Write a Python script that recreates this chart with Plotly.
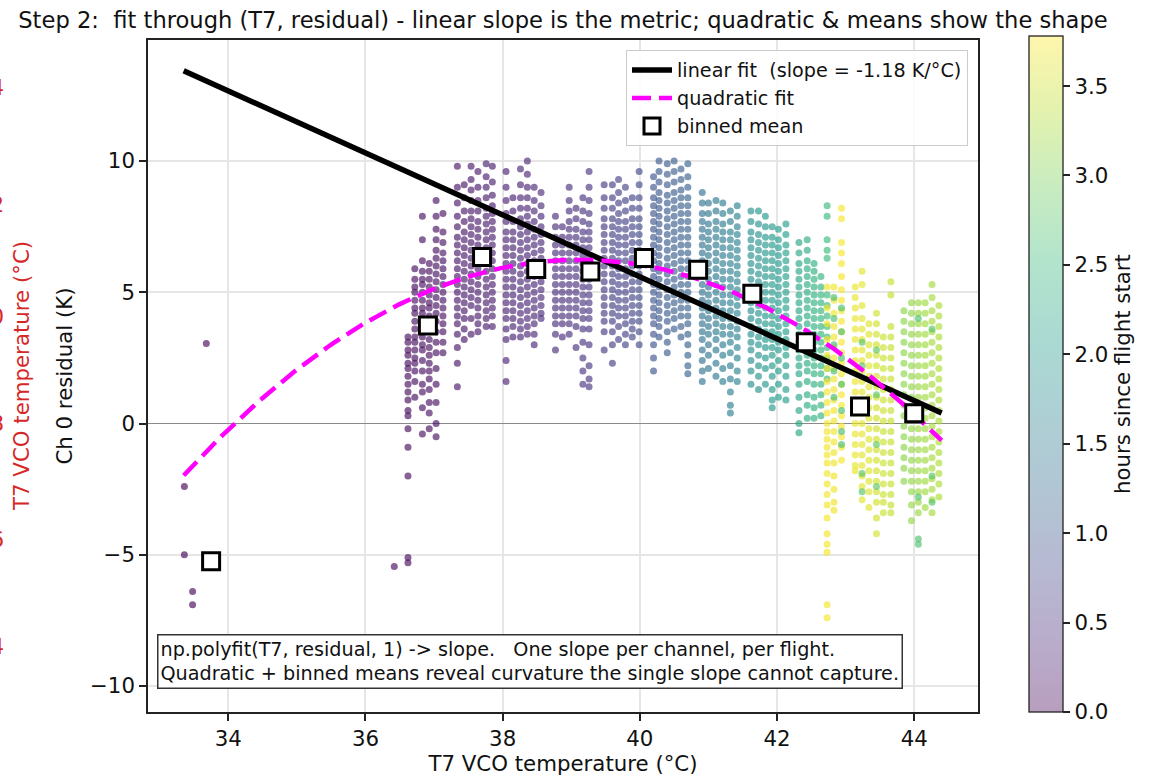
import numpy as np
import plotly.graph_objects as go
import plotly.express as px

# ---------------- data ----------------
# each strip: one T7 reading (degC), its time since flight start (h), and residuals (K)
strip_temp = [
    33.36, 33.48, 33.68, 36.42,
    36.62, 36.72, 36.83, 36.93, 37.03, 37.13,
    37.34, 37.44, 37.54, 37.64, 37.76, 37.85,
    38.05, 38.15, 38.26, 38.36, 38.46, 38.56,
    38.77, 38.87, 38.97, 39.07, 39.17, 39.26,
    39.48, 39.60, 39.69, 39.79, 39.89, 39.99,
    40.20, 40.28, 40.40, 40.50, 40.60, 40.70,
    40.91, 41.00, 41.11, 41.21, 41.32, 41.42,
    41.62, 41.73, 41.83, 41.93, 42.02, 42.13,
    42.32, 42.44, 42.54, 42.64,
    42.73, 42.73, 42.83, 42.83, 42.94, 42.94,
    43.14, 43.24, 43.34, 43.45, 43.55, 43.66, 43.24, 43.45,
    43.85, 43.96, 44.06, 44.16, 44.26, 44.36, 44.06, 44.26,
]
strip_hours = [
    0.02, 0.03, 0.05, 0.08,
    0.10, 0.11, 0.12, 0.13, 0.14, 0.15,
    0.20, 0.22, 0.24, 0.25, 0.27, 0.28,
    0.31, 0.33, 0.35, 0.37, 0.39, 0.41,
    0.44, 0.46, 0.48, 0.50, 0.52, 0.55,
    0.62, 0.66, 0.70, 0.73, 0.77, 0.80,
    0.95, 0.99, 1.03, 1.07, 1.11, 1.15,
    1.38, 1.44, 1.50, 1.55, 1.60, 1.65,
    1.86, 1.91, 1.96, 2.01, 2.06, 2.10,
    2.22, 2.30, 2.37, 2.44,
    2.55, 3.72, 3.70, 2.62, 3.74, 2.65,
    3.66, 3.63, 3.60, 3.52, 3.48, 3.45, 2.75, 2.80,
    3.10, 3.14, 3.18, 3.22, 3.26, 3.30, 2.70, 2.75,
]
strip_resid = [
    [-2.4, -5.0], [-6.4, -6.9], [3.05], [-5.45],
    [3.3, 3.1, 2.8, 2.6, 2.3, 2.1, 1.8, 1.5, 1.2, 0.9, 0.5, 0.3, -0.2, -0.9, -2.0, -5.1, -5.3],
    [5.9, 5.5, 5.2, 5.0, 4.7, 4.4, 4.2, 3.9, 3.6, 3.3, 3.1, 2.8, 2.5, 2.3, 2.0, 1.6, 1.0],
    [7.9, 7.0, 6.2, 5.8, 5.5, 5.3, 5.0, 4.7, 4.4, 4.2, 3.9, 3.6, 3.3, 3.0, 2.8, 2.4, 2.0, 1.5, 1.2, 0.6, -0.4],
    [6.1, 5.8, 5.5, 5.2, 4.9, 4.6, 4.4, 4.1, 3.8, 3.5, 3.2, 2.9, 2.6, 2.3, 2.0, 1.7, 1.3, 0.8, 0.4, -0.2],
    [8.5, 7.9, 7.4, 7.0, 6.6, 6.3, 6.0, 5.7, 5.4, 5.1, 4.8, 4.5, 4.2, 3.9, 3.5, 3.1, 2.7, 2.1, 1.5, 0.8, 0.0, -0.5],
    [8.0, 7.3, 6.9, 6.5, 6.2, 5.9, 5.6, 5.3, 5.0, 4.7, 4.4, 4.1, 3.8, 3.5, 3.1, 2.7],
    [9.8, 9.0, 8.4, 7.9, 7.5, 7.1, 6.8, 6.5, 6.2, 5.9, 5.6, 5.3, 5.0, 4.7, 4.4, 4.1, 3.8, 3.4, 2.9, 2.3, 1.4],
    [9.1, 8.6, 8.1, 7.7, 7.3, 7.0, 6.7, 6.4, 6.1, 5.8, 5.5, 5.2, 4.9, 4.6, 4.3, 4.0, 3.6, 3.2],
    [9.8, 9.3, 8.9, 8.5, 8.1, 7.8, 7.5, 7.2, 6.9, 6.6, 6.3, 6.0, 5.7, 5.4, 5.1, 4.8, 4.5, 4.0, 3.4],
    [9.6, 9.0, 8.5, 8.1, 7.7, 7.4, 7.1, 6.8, 6.5, 6.2, 5.9, 5.6, 5.3, 5.0, 4.7, 4.4, 4.1, 3.8, 3.5],
    [9.9, 9.4, 9.0, 8.6, 8.2, 7.9, 7.6, 7.3, 7.0, 6.7, 6.4, 6.1, 5.8, 5.5, 5.2, 4.9, 4.6, 4.3, 4.0, 3.7],
    [9.8, 9.2, 8.7, 8.3, 8.0, 7.7, 7.4, 7.1, 6.8, 6.5, 6.2, 5.9, 5.6, 5.3, 5.0, 4.7, 4.4, 4.1, 3.7],
    [9.6, 9.0, 8.5, 8.0, 7.7, 7.3, 7.0, 6.7, 6.4, 6.1, 5.8, 5.5, 5.2, 4.9, 4.6, 4.3, 4.0, 3.6, 3.2, 2.4, 1.6],
    [8.6, 8.1, 7.7, 7.3, 7.0, 6.7, 6.4, 6.1, 5.8, 5.5, 5.2, 4.9, 4.6, 4.3, 4.0, 3.7, 3.3],
    [9.7, 9.1, 8.6, 8.2, 7.8, 7.5, 7.2, 6.9, 6.6, 6.3, 6.0, 5.7, 5.4, 5.1, 4.8, 4.5, 4.2, 3.9, 3.6, 3.3],
    [10.0, 9.5, 9.0, 8.6, 8.2, 7.9, 7.6, 7.3, 7.0, 6.7, 6.4, 6.1, 5.8, 5.5, 5.2, 4.9, 4.6, 4.3, 4.0, 3.7, 3.4],
    [9.0, 8.5, 8.1, 7.7, 7.4, 7.1, 6.8, 6.5, 6.2, 5.9, 5.6, 5.3, 5.0, 4.7, 4.4, 4.1, 3.8, 3.4, 3.0],
    [8.8, 8.3, 7.9, 7.5, 7.2, 6.9, 6.6, 6.3, 6.0, 5.7, 5.4, 5.1, 4.8, 4.5, 4.2, 4.0],
    [7.9, 7.5, 7.1, 6.8, 6.5, 6.2, 5.9, 5.6, 5.3, 5.0, 4.7, 4.4, 4.1, 3.8, 3.4, 2.8],
    [7.5, 7.1, 6.8, 6.5, 6.2, 5.9, 5.6, 5.3, 5.0, 4.7, 4.4, 4.1, 3.8, 3.3],
    [9.0, 8.5, 8.1, 7.7, 7.4, 7.1, 6.8, 6.5, 6.2, 5.9, 5.6, 5.3, 5.0, 4.7, 4.4, 4.1, 3.8, 3.4],
    [8.2, 7.8, 7.4, 7.1, 6.8, 6.5, 6.2, 5.9, 5.6, 5.3, 5.0, 4.7, 4.4, 4.1, 3.7, 2.9],
    [8.6, 8.1, 7.7, 7.3, 7.0, 6.7, 6.4, 6.1, 5.8, 5.5, 5.2, 4.9, 4.6, 4.3, 4.0, 3.6, 3.1, 2.5, 2.0, 1.5],
    [9.6, 9.0, 8.5, 8.0, 7.6, 7.3, 7.0, 6.7, 6.4, 6.1, 5.8, 5.5, 5.2, 4.9, 4.6, 4.3, 4.0, 3.6, 3.0, 2.2, 1.7, 1.4],
    [9.1, 8.6, 8.2, 7.8, 7.5, 7.2, 6.9, 6.6, 6.3, 6.0, 5.7, 5.4, 5.1, 4.8, 4.5, 4.2, 3.9, 3.5, 2.8],
    [9.1, 8.6, 8.2, 7.8, 7.5, 7.2, 6.9, 6.6, 6.3, 6.0, 5.7, 5.4, 5.1, 4.8, 4.5, 4.2, 3.9, 3.5, 3.0, 2.3],
    [9.3, 8.8, 8.4, 8.0, 7.7, 7.4, 7.1, 6.8, 6.5, 6.2, 5.9, 5.6, 5.3, 5.0, 4.7, 4.4, 4.1, 3.7, 3.2],
    [9.0, 8.5, 8.1, 7.7, 7.4, 7.1, 6.8, 6.5, 6.2, 5.9, 5.6, 5.3, 5.0, 4.7, 4.4, 4.1, 3.8, 3.4, 3.0],
    [8.6, 8.2, 7.8, 7.5, 7.2, 6.9, 6.6, 6.3, 6.0, 5.7, 5.4, 5.1, 4.8, 4.5, 4.2, 3.9, 3.6, 3.3],
    [9.6, 9.1, 8.6, 8.2, 7.8, 7.5, 7.2, 6.9, 6.6, 6.3, 6.0, 5.7, 5.4, 5.1, 4.8, 4.5, 4.2, 3.9, 3.5, 3.0],
    [9.4, 9.0, 8.6, 8.3, 8.0, 7.7, 7.4, 7.1, 6.8, 6.5, 6.2, 5.9, 5.6, 5.3, 5.0, 4.7, 4.4, 4.1, 3.8, 3.4, 3.0, 2.5, 2.0],
    [10.0, 9.6, 9.2, 8.8, 8.5, 8.2, 7.9, 7.6, 7.3, 7.0, 6.7, 6.4, 6.1, 5.8, 5.5, 5.2, 4.9, 4.6, 4.3, 4.0, 3.7, 3.3],
    [9.9, 9.5, 9.1, 8.7, 8.4, 8.1, 7.8, 7.5, 7.2, 6.9, 6.6, 6.3, 6.0, 5.7, 5.4, 5.1, 4.8, 4.5, 4.2, 3.9, 3.5, 3.1, 2.7],
    [10.0, 9.6, 9.2, 8.8, 8.5, 8.2, 7.9, 7.6, 7.3, 7.0, 6.7, 6.4, 6.1, 5.8, 5.5, 5.2, 4.9, 4.6, 4.3, 4.0, 3.6],
    [9.7, 9.3, 8.9, 8.6, 8.3, 8.0, 7.7, 7.4, 7.1, 6.8, 6.5, 6.2, 5.9, 5.6, 5.3, 5.0, 4.7, 4.4, 4.1, 3.7, 3.3],
    [9.9, 9.4, 9.0, 8.6, 8.3, 8.0, 7.7, 7.4, 7.1, 6.8, 6.5, 6.2, 5.9, 5.6, 5.3, 5.0, 4.7, 4.4, 4.1, 3.8, 3.4, 3.0, 2.6, 2.2, 1.9],
    [8.8, 8.4, 8.0, 7.7, 7.4, 7.1, 6.8, 6.5, 6.2, 5.9, 5.6, 5.3, 5.0, 4.7, 4.4, 4.1, 3.8, 3.5, 3.2, 2.8, 2.4, 2.0, 1.6],
    [8.4, 8.0, 7.6, 7.3, 7.0, 6.7, 6.4, 6.1, 5.8, 5.5, 5.2, 4.9, 4.6, 4.3, 4.0, 3.7, 3.4, 3.0, 2.6, 2.1],
    [8.5, 8.1, 7.7, 7.4, 7.1, 6.8, 6.5, 6.2, 5.9, 5.6, 5.3, 5.0, 4.7, 4.4, 4.1, 3.8, 3.5, 3.2, 2.8, 2.3, 1.8],
    [8.4, 8.0, 7.6, 7.3, 7.0, 6.7, 6.4, 6.1, 5.8, 5.5, 5.2, 4.9, 4.6, 4.3, 4.0, 3.7, 3.4, 3.0, 2.6, 2.1, 1.6],
    [8.1, 7.7, 7.3, 7.0, 6.7, 6.4, 6.1, 5.8, 5.5, 5.2, 4.9, 4.6, 4.3, 4.0, 3.7, 3.4, 3.1, 2.7, 2.2, 1.7, 1.2, 0.7, 0.4],
    [8.3, 7.9, 7.5, 7.2, 6.9, 6.6, 6.3, 6.0, 5.7, 5.4, 5.1, 4.8, 4.5, 4.2, 3.9, 3.6, 3.3, 2.9, 2.5, 2.0, 1.6],
    [8.1, 7.7, 7.3, 7.0, 6.7, 6.4, 6.1, 5.8, 5.5, 5.2, 4.9, 4.6, 4.3, 4.0, 3.7, 3.4, 3.1, 2.8, 2.4, 2.0, 1.5],
    [8.1, 7.6, 7.2, 6.9, 6.6, 6.3, 6.0, 5.7, 5.4, 5.1, 4.8, 4.5, 4.2, 3.9, 3.6, 3.3, 3.0, 2.6, 2.2, 1.8, 1.3],
    [7.9, 7.5, 7.1, 6.8, 6.5, 6.2, 5.9, 5.6, 5.3, 5.0, 4.7, 4.4, 4.1, 3.8, 3.5, 3.2, 2.9, 2.5, 2.1, 1.5],
    [7.5, 7.1, 6.8, 6.5, 6.2, 5.9, 5.6, 5.3, 5.0, 4.7, 4.4, 4.1, 3.8, 3.5, 3.2, 2.9, 2.6, 2.2, 1.8, 1.3, 0.9, 0.6],
    [7.4, 7.0, 6.7, 6.4, 6.1, 5.8, 5.5, 5.2, 4.9, 4.6, 4.3, 4.0, 3.7, 3.4, 3.1, 2.8, 2.4, 2.0, 1.5, 1.0],
    [7.6, 7.2, 6.8, 6.5, 6.2, 5.9, 5.6, 5.3, 5.0, 4.7, 4.4, 4.1, 3.8, 3.5, 3.2, 2.9, 2.6, 2.2, 1.8, 1.3, 0.9],
    [6.9, 6.5, 6.1, 5.8, 5.5, 5.2, 4.9, 4.6, 4.3, 4.0, 3.7, 3.4, 3.1, 2.8, 2.5, 2.2, 1.9, 1.5, 1.0, 0.5, 0.0, -0.35],
    [7.0, 6.6, 6.2, 5.9, 5.6, 5.3, 5.0, 4.7, 4.4, 4.1, 3.8, 3.5, 3.2, 2.9, 2.6, 2.3, 2.0, 1.6, 1.1, 0.7, 0.2],
    [6.1, 5.8, 5.5, 5.2, 4.9, 4.6, 4.3, 4.0, 3.7, 3.4, 3.1, 2.8, 2.5, 2.2, 1.9, 1.5, 1.0, 0.6, 0.2],
    [5.6, 5.2, 4.9, 4.6, 4.3, 4.0, 3.7, 3.4, 3.1, 2.8, 2.5, 2.2, 1.9, 1.5, 1.1, 0.7, 0.3],
    [8.3, 7.9, 7.0, 6.6, 6.3, 4.9, 4.5, 4.1, 3.7, 3.3, 2.9, 2.5, 2.1, 1.7],
    [5.2, 4.4, 3.8, 3.2, 2.6, 2.1, 1.6, 1.2, 0.8, 0.4, 0.0, -0.3, -0.6, -0.9, -1.2, -1.5, -1.9, -2.3, -2.7, -3.1, -3.6, -4.2, -4.6, -4.9, -6.9, -7.4],
    [5.2, 4.7, 4.2, 3.7, 3.3, 2.9, 2.5, 2.1, 1.7, 1.3, 0.9, 0.5, 0.1, -0.3, -0.7, -1.1, -1.5, -2.0, -2.5, -3.0, -3.3],
    [4.8, 4.0, 3.0, 2.0, 1.0],
    [8.2, 7.8, 6.9, 6.5, 6.1, 5.6, 5.1, 4.7, 4.3, 3.9, 3.5, 3.1, 2.7, 2.3, 1.9, 1.5, 1.1, 0.7, 0.3, -0.1, -0.5, -0.9, -1.4],
    [4.4, 3.5, 2.5, 1.5, 0.5, -0.3, -0.8],
    [5.2, 4.8, 4.4, 4.0, 3.6, 3.2, 2.8, 2.4, 2.0, 1.6, 1.2, 0.8, 0.4, 0.0, -0.4, -0.8, -1.2, -1.6, -1.8],
    [5.8, 5.3, 4.5, 4.0, 3.6, 3.2, 2.8, 2.4, 2.0, 1.6, 1.2, 0.8, 0.4, 0.0, -0.4, -0.8, -1.2, -1.6, -2.0, -2.4, -2.9],
    [3.8, 3.4, 3.0, 2.6, 2.2, 1.8, 1.4, 1.0, 0.6, 0.2, -0.2, -0.6, -1.0, -1.4, -1.8, -2.2, -2.6, -3.2],
    [4.2, 3.8, 3.4, 3.0, 2.6, 2.2, 1.8, 1.4, 1.0, 0.6, 0.2, -0.2, -0.6, -1.0, -1.4, -1.8, -2.2, -2.6, -3.0, -3.6, -4.2],
    [3.3, 2.9, 2.5, 2.1, 1.7, 1.3, 0.9, 0.5, 0.1, -0.3, -0.7, -1.1, -1.5, -1.9, -2.3, -2.7, -3.0, -3.4],
    [5.4, 4.9, 3.7, 3.3, 2.9, 2.5, 2.1, 1.7, 1.3, 0.9, 0.5, 0.1, -0.3, -0.7, -1.1, -1.5, -1.9, -2.3, -2.7, -3.1, -3.4],
    [3.1, 2.2, -1.9, -2.6],
    [2.8, 1.1, -0.8, -2.4],
    [4.3, 3.9, 3.5, 3.1, 2.7, 2.3, 1.9, 1.5, 1.1, 0.7, 0.3, -0.1, -0.5, -0.9, -1.3, -1.7, -2.2],
    [4.6, 4.2, 3.8, 3.4, 3.0, 2.6, 2.2, 1.8, 1.4, 1.0, 0.6, 0.2, -0.2, -0.6, -1.0, -1.4, -1.8, -2.2, -2.6, -3.1, -3.7],
    [4.6, 4.2, 3.8, 3.4, 3.0, 2.6, 2.2, 1.8, 1.4, 1.0, 0.6, 0.2, -0.2, -0.6, -1.0, -1.4, -1.8, -2.2, -2.6, -3.0, -3.4],
    [4.6, 4.2, 3.8, 3.4, 3.0, 2.6, 2.2, 1.8, 1.4, 1.0, 0.6, 0.2, -0.2, -0.6, -1.0, -1.4, -1.8, -2.2, -2.6, -3.2],
    [5.3, 4.8, 4.3, 3.9, 3.5, 3.1, 2.7, 2.3, 1.9, 1.5, 1.1, 0.7, 0.3, -0.1, -0.5, -0.9, -1.3, -1.7, -2.1, -2.5, -2.9, -3.4],
    [4.5, 4.1, 3.7, 3.3, 2.9, 2.5, 2.1, 1.7, 1.3, 0.9, 0.5, 0.1, -0.3, -0.7, -1.1, -1.5, -1.9, -2.3, -2.8],
    [4.0, -2.8, -4.4, -4.6],
    [3.6, -2.0, -3.0],
]

# binned means (squares)
bin_temp = [33.75, 36.91, 37.70, 38.49, 39.28, 40.06, 40.85, 41.64, 42.42, 43.21, 44.00]
bin_mean = [-5.25, 3.73, 6.34, 5.89, 5.79, 6.31, 5.86, 4.94, 3.10, 0.65, 0.39]

# fit coefficients (highest power first) and fitted T7 range
lin_coef = [-1.18, 52.79]
quad_coef = [-0.247, 19.325, -371.75]
fit_range = [33.35, 44.40]
slope_label = -1.18
hours_max = 3.78

# ---------------- build ----------------
xs, ys, cs = [], [], []
for t, h, vals in zip(strip_temp, strip_hours, strip_resid):
    for v in vals:
        xs.append(t)
        ys.append(v)
        cs.append(h)

def rgba(hexcol, a):
    hexcol = hexcol.lstrip('#')
    r, g, b = int(hexcol[0:2], 16), int(hexcol[2:4], 16), int(hexcol[4:6], 16)
    return f"rgba({r},{g},{b},{a})"

def pale(hexcol, a):
    hexcol = hexcol.lstrip('#')
    r, g, b = int(hexcol[0:2], 16), int(hexcol[2:4], 16), int(hexcol[4:6], 16)
    f = lambda c: round(255 - a * (255 - c))
    return f"rgb({f(r)},{f(g)},{f(b)})"

vir = px.colors.sequential.Viridis
n = len(vir)
pt_scale = [[i / (n - 1), rgba(c, 0.64)] for i, c in enumerate(vir)]
cb_scale = [[i / (n - 1), pale(c, 0.38)] for i, c in enumerate(vir)]

FONT = "DejaVu Sans"
fs = 21.3
fs_title = 22.6
fs_small = 19.2

fig = go.Figure()

fig.add_trace(go.Scatter(
    x=xs, y=ys, mode="markers", showlegend=False, hoverinfo="skip",
    marker=dict(size=7, color=cs, colorscale=pt_scale, cmin=0, cmax=hours_max,
                line=dict(width=0), showscale=False)))

# colorbar (pale, as drawn with alpha)
fig.add_trace(go.Scatter(
    x=[None], y=[None], mode="markers", showlegend=False, hoverinfo="skip",
    marker=dict(color=[0], colorscale=cb_scale, cmin=0, cmax=hours_max,
                showscale=True,
                colorbar=dict(
                    x=(1029 - 148) / 830, xanchor="left", xpad=0, ypad=0,
                    y=(712 - 374) / 672, yanchor="middle",
                    len=676, lenmode="pixels", thickness=34, thicknessmode="pixels",
                    outlinewidth=1.3, outlinecolor="#222",
                    tickvals=[0, 0.5, 1, 1.5, 2, 2.5, 3, 3.5],
                    ticktext=["0.0", "0.5", "1.0", "1.5", "2.0", "2.5", "3.0", "3.5"],
                    ticks="outside", ticklen=7, tickwidth=1.5, tickcolor="#222",
                    tickfont=dict(family=FONT, size=fs, color="#111"),
                    title=dict(text="hours since flight start", side="right",
                               font=dict(family=FONT, size=fs, color="#111")),
                ))))

xf = np.linspace(fit_range[0], fit_range[1], 200)
fig.add_trace(go.Scatter(
    x=xf, y=np.polyval(lin_coef, xf), mode="lines",
    name=f"linear fit  (slope = {slope_label:.2f} K/°C)",
    line=dict(color="black", width=5.5)))
fig.add_trace(go.Scatter(
    x=xf, y=np.polyval(quad_coef, xf), mode="lines", name="quadratic fit",
    line=dict(color="#ff00ff", width=4.5, dash="19px,8px")))
fig.add_trace(go.Scatter(
    x=bin_temp, y=bin_mean, mode="markers", name="binned mean",
    marker=dict(symbol="square", size=17, color="white",
                line=dict(color="black", width=3))))

axis_common = dict(showgrid=True, gridcolor="#e6e6e6", gridwidth=1.5,
                   showline=True, linecolor="#222", linewidth=1.6, mirror=True,
                   ticks="outside", ticklen=7, tickwidth=1.6, tickcolor="#222",
                   tickfont=dict(family=FONT, size=fs, color="#111"),
                   automargin=False)

fig.update_xaxes(range=[32.83, 44.93], tickvals=[34, 36, 38, 40, 42, 44],
                 zeroline=False,
                 title=dict(text="T7 VCO temperature (°C)", standoff=2,
                            font=dict(family=FONT, size=fs, color="#111")),
                 **axis_common)
fig.update_yaxes(range=[-10.99, 14.61], tickvals=[-10, -5, 0, 5, 10],
                 ticktext=["\u221210", "\u22125", "0", "5", "10"],
                 zeroline=True, zerolinecolor="#8a8a8a", zerolinewidth=1.3,
                 title=dict(text="Ch 0 residual (K)", standoff=12,
                            font=dict(family=FONT, size=fs, color="#111")),
                 **axis_common)

annotations = [
    dict(text="np.polyfit(T7, residual, 1) -> slope.   One slope per channel, per flight.<br>"
              "Quadratic + binned means reveal curvature the single slope cannot capture.",
         xref="paper", yref="paper", x=(157 - 148) / 830, y=(712 - 689) / 672,
         xanchor="left", yanchor="bottom", align="left", showarrow=False,
         font=dict(family=FONT, size=fs_small, color="#111"),
         bgcolor="white", bordercolor="#333", borderwidth=1.5, borderpad=2),
    dict(text="T7 VCO temperature (°C)", xref="paper", yref="paper",
         x=(21 - 148) / 830, y=0.5, xanchor="center", yanchor="middle",
         textangle=-90, showarrow=False,
         font=dict(family=FONT, size=fs, color="#d62728")),
]
for lab, py in zip(["44", "42", "40", "38", "36", "34"], [88, 204, 316, 423, 539, 646]):
    annotations.append(dict(text=lab, xref="paper", yref="paper",
                            x=(6 - 148) / 830, y=(712 - py) / 672,
                            xanchor="right", yanchor="middle", showarrow=False,
                            font=dict(family=FONT, size=fs, color="#d62728")))

fig.update_layout(
    width=1155, height=776,
    margin=dict(l=148, r=177, t=40, b=64, autoexpand=False),
    paper_bgcolor="white", plot_bgcolor="white",
    font=dict(family=FONT, size=fs, color="#111"),
    title=dict(text="Step 2:  fit through (T7, residual) - linear slope is the metric; "
                    "quadratic & means show the shape",
               x=0.5, xref="paper", xanchor="center",
               y=1 - 20 / 776, yref="container", yanchor="middle",
               font=dict(family=FONT, size=fs_title, color="#111")),
    legend=dict(x=(968 - 148) / 830, xanchor="right", y=(712 - 50) / 672, yanchor="top",
                bgcolor="rgba(255,255,255,0.85)", bordercolor="#cccccc", borderwidth=1,
                font=dict(family=FONT, size=fs_small, color="#111"),
                itemwidth=40, tracegroupgap=0),
    annotations=annotations,
)

fig.write_html("out.html",
               config={"displayModeBar": False},
               post_script="document.body.style.margin='0';"
                           "document.body.style.overflow='hidden';")
